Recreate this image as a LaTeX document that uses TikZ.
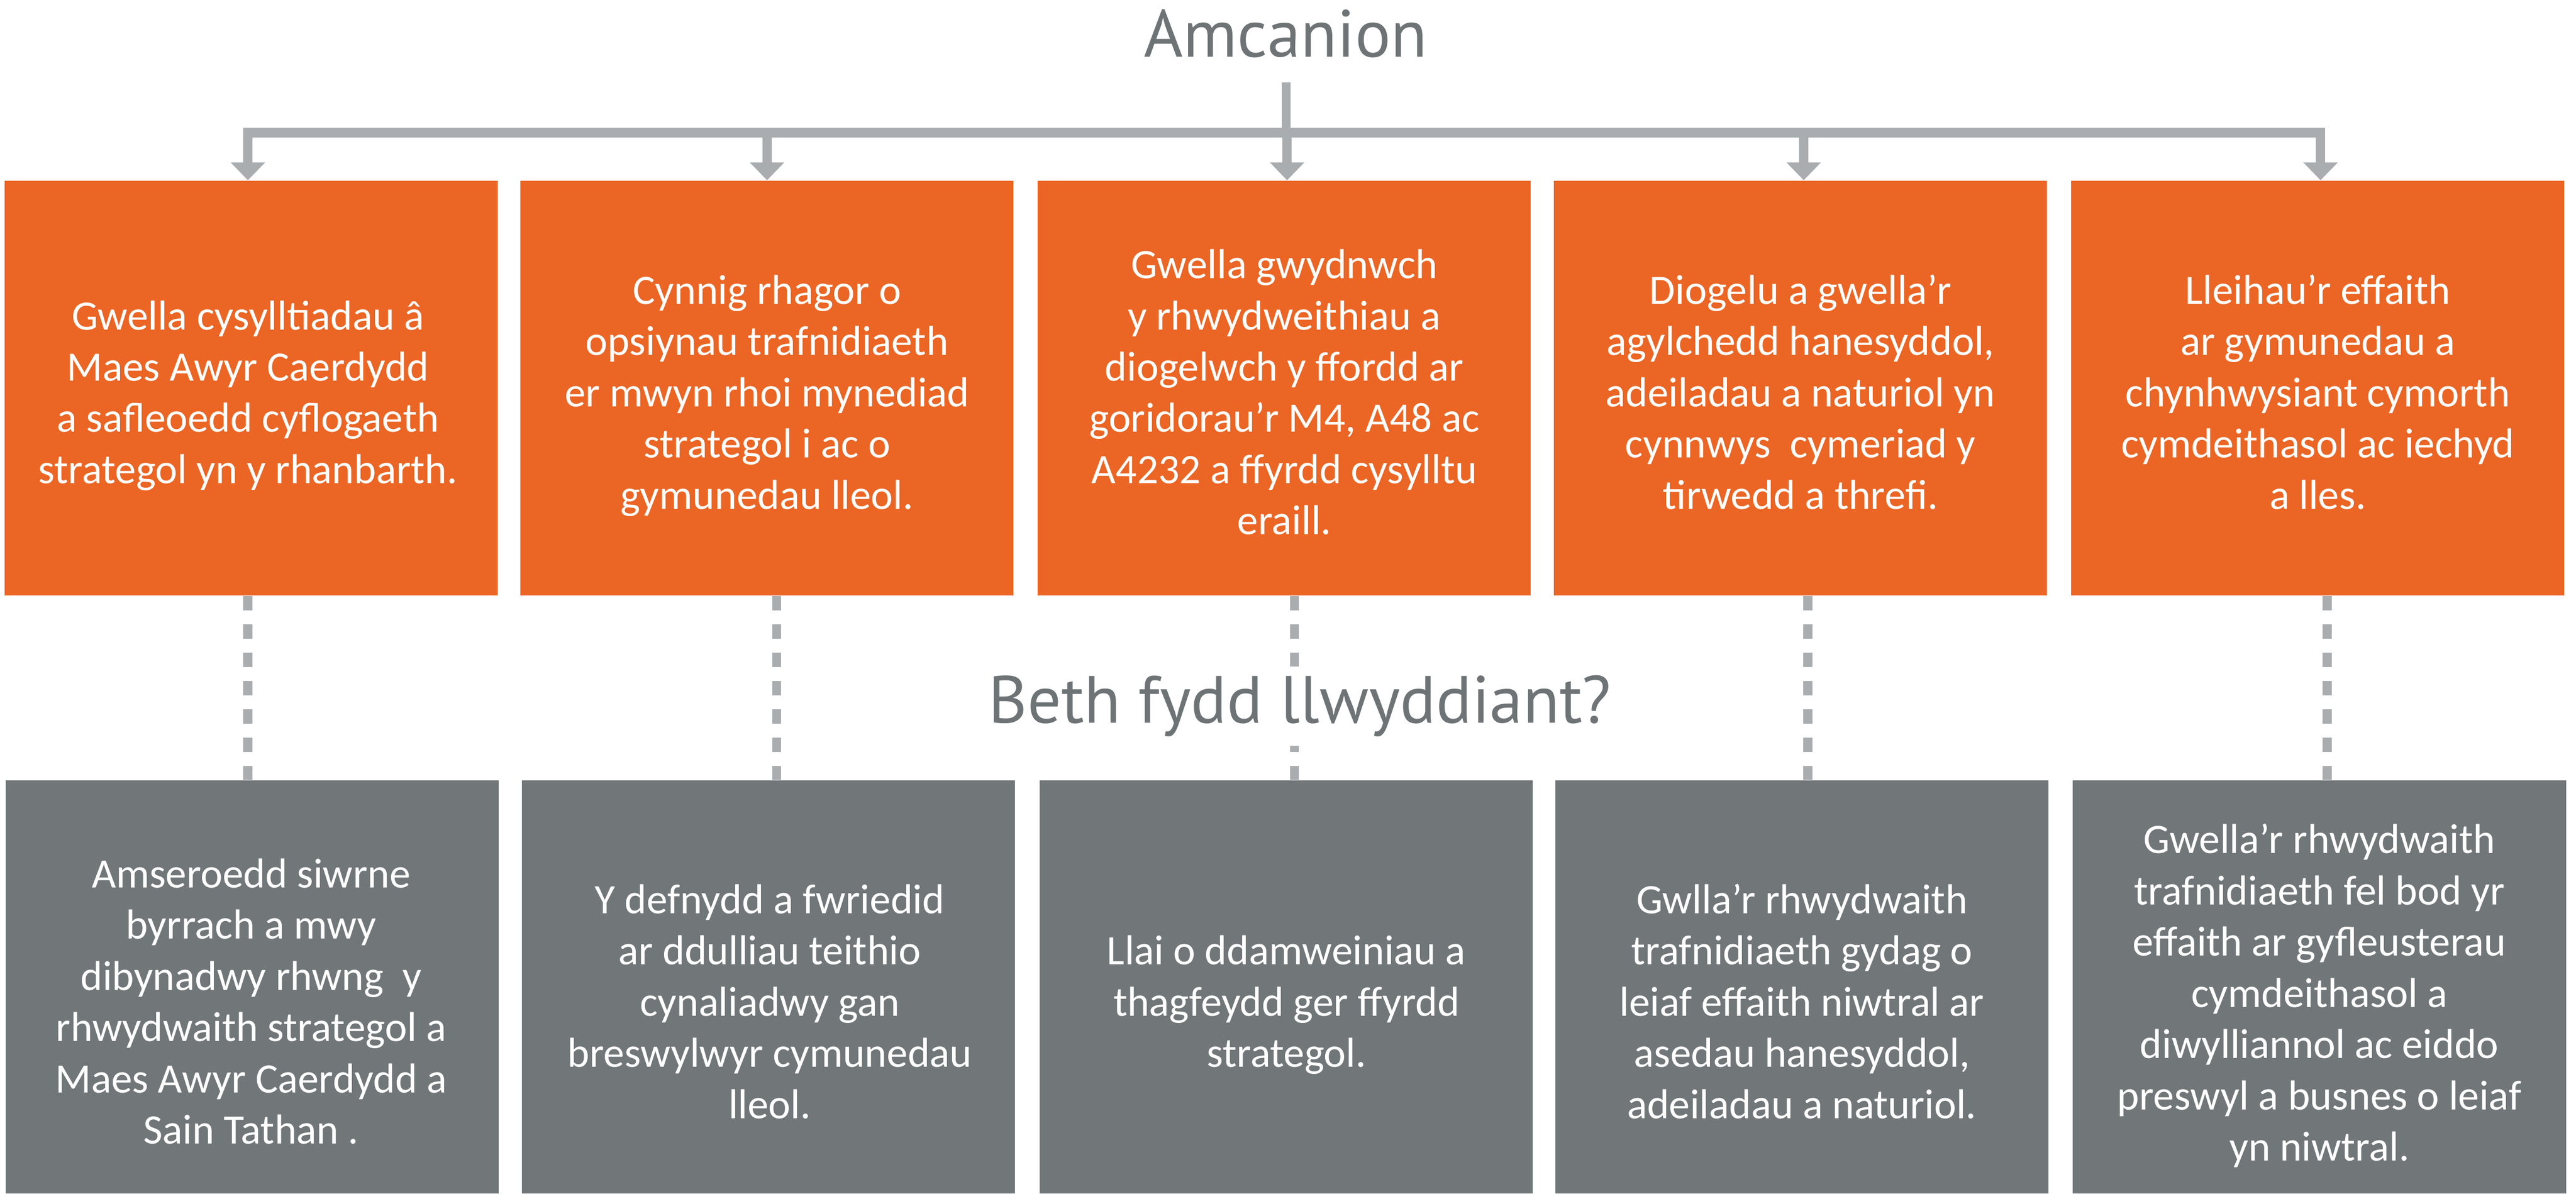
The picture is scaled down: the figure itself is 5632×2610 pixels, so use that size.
\documentclass[tikz,border=0pt]{standalone}
\usepackage{fontspec}
\setmainfont{Carlito}
\newfontfamily\titlefont{PT Sans}
\usetikzlibrary{arrows.meta,calc}
\definecolor{orng}{RGB}{235,101,36}
\definecolor{gbox}{RGB}{113,118,121}
\definecolor{lgrey}{RGB}{170,173,176}
\definecolor{tgrey}{RGB}{110,115,118}
\begin{document}
\begin{tikzpicture}[x=0.25pt,y=-0.25pt,
  obox/.style={fill=orng,draw=none,inner sep=0pt,minimum width=269.5pt,minimum height=226.75pt},
  gbox/.style={fill=gbox,draw=none,inner sep=0pt,minimum width=269.5pt,minimum height=226pt},
  btext/.style={text=white,align=center,inner sep=0pt,font=\fontsize{22.9pt}{28pt}\selectfont},
  title/.style={text=tgrey,inner sep=0pt,font=\titlefont\fontsize{36.5pt}{44pt}\selectfont},
  conn/.style={draw=lgrey,line width=5pt},
  arr/.style={conn,-{Triangle[width=18.25pt,length=9.75pt]}},
  dashline/.style={draw=lgrey,line width=5pt,dash pattern=on 8pt off 7.5pt}
]
\useasboundingbox (0,0) rectangle (5632,2610);
\fill[white] (0,0) rectangle (5632,2610);

% orange boxes
\node[obox] (o1) at (549,848.5) {};
\node[obox] (o2) at (1677,848.5) {};
\node[obox] (o3) at (2808,848.5) {};
\node[obox] (o4) at (3936.5,848.5) {};
\node[obox] (o5) at (5067.5,848.5) {};
% grey boxes
\node[gbox] (g1) at (551,2158) {};
\node[gbox] (g2) at (1680,2158) {};
\node[gbox] (g3) at (2812.5,2158) {};
\node[gbox] (g4) at (3939.5,2158) {};
\node[gbox] (g5) at (5071,2158) {};

% texts in orange boxes
\node[btext] (t1) at ($(o1.center)+(-7,18)$) {\strut Gwella cysylltiadau â\\Maes Awyr Caerdydd\\a safleoedd cyflogaeth\\strategol yn y rhanbarth.\strut};
\node[btext] (t2) at ($(o2.center)+(0,18)$) {\strut Cynnig rhagor o\\opsiynau trafnidiaeth\\er mwyn rhoi mynediad\\strategol i ac o\\gymunedau lleol.\strut};
\node[btext] (t3) at ($(o3.center)+(0,18)$) {\strut Gwella gwydnwch\\y rhwydweithiau a\\diogelwch y ffordd ar\\goridorau’r M4, A48 ac\\A4232 a ffyrdd cysylltu\\eraill.\strut};
\node[btext] (t4) at ($(o4.center)+(0,18)$) {\strut Diogelu a gwella’r\\agylchedd hanesyddol,\\adeiladau a naturiol yn\\cynnwys~ cymeriad y\\tirwedd a threfi.\strut};
\node[btext] (t5) at ($(o5.center)+(0,18)$) {\strut Lleihau’r effaith\\ar gymunedau a\\chynhwysiant cymorth\\cymdeithasol ac iechyd\\a lles.\strut};

% texts in grey boxes
\node[btext] (s1) at ($(g1.center)+(-2,41)$) {\strut Amseroedd siwrne\\byrrach a mwy\\dibynadwy rhwng~ y\\rhwydwaith strategol a\\Maes Awyr Caerdydd a\\Sain Tathan .\strut};
\node[btext] (s2) at ($(g2.center)+(3,41)$) {\strut Y defnydd a fwriedid\\ar ddulliau teithio\\cynaliadwy gan\\breswylwyr cymunedau\\lleol.\strut};
\node[btext] (s3) at ($(g3.center)+(0,41)$) {\strut Llai o ddamweiniau a\\thagfeydd ger ffyrdd\\strategol.\strut};
\node[btext] (s4) at ($(g4.center)+(0,41)$) {\strut Gwlla’r rhwydwaith\\trafnidiaeth gydag o\\leiaf effaith niwtral ar\\asedau hanesyddol,\\adeiladau a naturiol.\strut};
\node[btext] (s5) at ($(g5.center)+(0,22)$) {\strut Gwella’r rhwydwaith\\trafnidiaeth fel bod yr\\effaith ar gyfleusterau\\cymdeithasol a\\diwylliannol ac eiddo\\preswyl a busnes o leiaf\\yn niwtral.\strut};

% title and tree connectors
\node[title,anchor=base] (am) at (2811,125) {Amcanion};
\coordinate (top) at (2812,180);
\coordinate (barL) at (532,290);
\coordinate (barR) at (5083,290);
\draw[conn,line width=5.5pt] (barL) -- (barR);
\draw[conn] (top) -- (top |- barL);

% arrow tips (on box tops) and dashed-link ends
\coordinate (a1) at ($(o1.north)+(-7,0)$);
\coordinate (a2) at (o2.north);
\coordinate (a3) at ($(o3.north)+(6,0)$);
\coordinate (a4) at ($(o4.north)+(7,0)$);
\coordinate (a5) at ($(o5.north)+(6,0)$);
\coordinate (d1) at ($(o1.south)+(-7,0)$);
\coordinate (d2) at ($(o2.south)+(21,0)$);
\coordinate (d3) at ($(o3.south)+(22,0)$);
\coordinate (d4) at ($(o4.south)+(16,0)$);
\coordinate (d5) at ($(o5.south)+(20,0)$);

\foreach \i in {1,...,5}{
  \draw[arr] (a\i |- barL) -- (a\i);
  \draw[dashline] (d\i) -- (d\i |- g\i.north);
}

\node[title,anchor=base,fill=white,inner xsep=2pt,inner ysep=5pt] (beth) at (2842,1581) {Beth fydd llwyddiant?};
\end{tikzpicture}
\end{document}
